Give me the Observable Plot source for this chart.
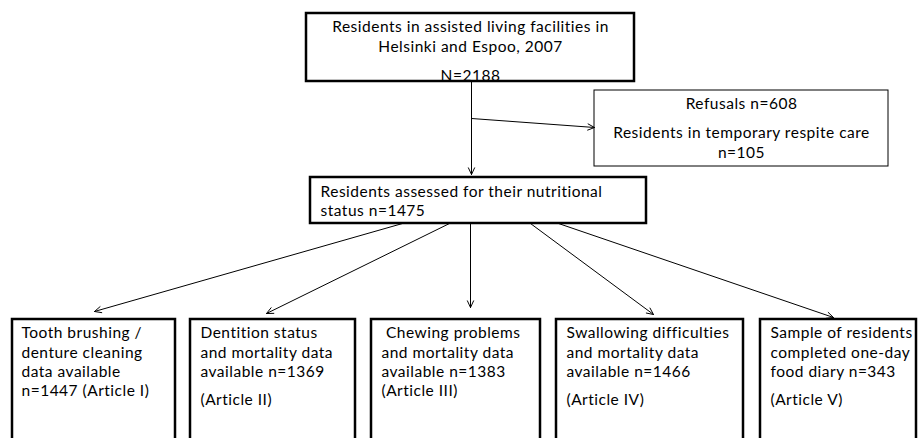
<!DOCTYPE html>
<html>
<head>
<meta charset="utf-8">
<script src="https://cdn.jsdelivr.net/npm/d3@7"></script>
<script src="https://cdn.jsdelivr.net/npm/@observablehq/plot@0.6"></script>
<style>
html,body{margin:0;padding:0;background:#fff;overflow:hidden;}
#chart svg{display:block;}
#chart svg text{letter-spacing:0.5px;}
</style>
</head>
<body>
<div id="chart"></div>
<script>
// Flowchart content
const totalN = 2188, refusals = 608, respite = 105, assessed = 1475;
const studyNames = ["Tooth brushing / denture cleaning data available", "Dentition status and mortality data available", "Chewing problems and mortality data available", "Swallowing difficulties and mortality data available", "Sample of residents completed one-day food diary"];
const studyCounts = [1447, 1369, 1383, 1466, 343];
const studyArticles = ["I", "II", "III", "IV", "V"];

// Layout of boxes (pixel space)
const boxId = ["top", "refusal", "middle", "s1", "s2", "s3", "s4", "s5"];
const boxX1 = [306, 594, 310, 12, 190, 371, 556, 760];
const boxX2 = [634, 888, 646, 175, 355, 540, 743, 916];
const boxY1 = [13, 90, 177, 319, 319, 319, 319, 319];
const boxY2 = [81, 166, 223, 460, 460, 460, 460, 460];
const boxW  = [2.5, 1, 2.5, 2.5, 2.5, 2.5, 2.5, 2.5];

// Arrows
const arrX1 = [471, 471, 402, 449, 470, 530, 558];
const arrY1 = [118, 81, 223, 223, 223, 223, 223];
const arrX2 = [594, 471, 94, 266, 470, 653, 833];
const arrY2 = [127, 174, 311, 313, 307, 314, 317];

const boxes = boxId.map((id, i) => ({id, x1: boxX1[i], x2: boxX2[i], y1: boxY1[i], y2: boxY2[i], w: boxW[i]}));
const arrows = arrX1.map((x, i) => ({x1: x, y1: arrY1[i], x2: arrX2[i], y2: arrY2[i]}));

// Text lines
const centeredText = [
  {x: 470, y: 27, t: "Residents in assisted living facilities in"},
  {x: 470, y: 47, t: "Helsinki and Espoo, 2007"},
  {x: 470, y: 76, t: `N=${totalN}`},
  {x: 741, y: 104, t: `Refusals n=${refusals}`},
  {x: 741, y: 133, t: "Residents in temporary respite care"},
  {x: 741, y: 153, t: `n=${respite}`}
];
const leftText = [
  {x: 320, y: 192, t: "Residents assessed for their nutritional"},
  {x: 320, y: 211, t: `status n=${assessed}`},
  {x: 21, y: 333, t: "Tooth brushing /"},
  {x: 21, y: 353, t: "denture cleaning"},
  {x: 21, y: 372, t: "data available"},
  {x: 21, y: 391, t: `n=${studyCounts[0]} (Article ${studyArticles[0]})`},
  {x: 200, y: 333, t: "Dentition status"},
  {x: 200, y: 353, t: "and mortality data"},
  {x: 200, y: 372, t: `available n=${studyCounts[1]}`},
  {x: 200, y: 400, t: `(Article ${studyArticles[1]})`},
  {x: 381, y: 333, t: " Chewing problems"},
  {x: 381, y: 353, t: "and mortality data"},
  {x: 381, y: 372, t: `available n=${studyCounts[2]}`},
  {x: 381, y: 391, t: `(Article ${studyArticles[2]})`},
  {x: 566, y: 333, t: "Swallowing difficulties"},
  {x: 566, y: 353, t: "and mortality data"},
  {x: 566, y: 372, t: `available n=${studyCounts[3]}`},
  {x: 566, y: 400, t: `(Article ${studyArticles[3]})`},
  {x: 770, y: 333, t: "Sample of residents"},
  {x: 770, y: 353, t: "completed one-day"},
  {x: 770, y: 372, t: `food diary n=${studyCounts[4]}`},
  {x: 770, y: 400, t: `(Article ${studyArticles[4]})`}
];

const font = "Lato, 'Open Sans', sans-serif";
const fs = 15.5;
const chart = Plot.plot({
  width: 922,
  height: 438,
  margin: 0,
  x: {domain: [0, 922], axis: null},
  y: {domain: [0, 438], reverse: true, axis: null},
  style: {fontFamily: font, background: "#fff"},
  marks: [
    Plot.rect(boxes, {x1: "x1", x2: "x2", y1: "y1", y2: "y2", fill: "white", stroke: "black", strokeWidth: "w"}),
    Plot.arrow(arrows, {x1: "x1", y1: "y1", x2: "x2", y2: "y2", stroke: "black", strokeWidth: 1, headLength: 11, headAngle: 50}),
    Plot.text(centeredText, {x: "x", y: "y", text: "t", textAnchor: "middle", fontSize: fs, fill: "black"}),
    Plot.text(leftText, {x: "x", y: "y", text: "t", textAnchor: "start", fontSize: fs, fill: "black"})
  ]
});
document.getElementById("chart").appendChild(chart);
</script>
</body>
</html>
